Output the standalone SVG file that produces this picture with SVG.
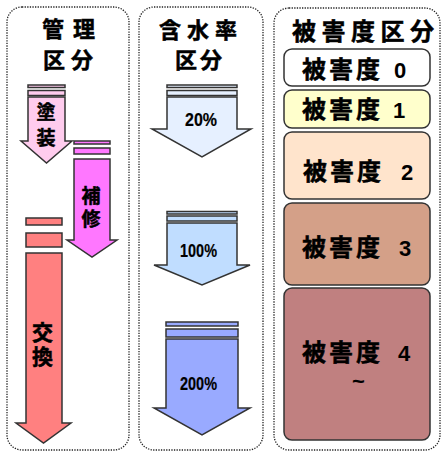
<svg xmlns="http://www.w3.org/2000/svg" width="441" height="454" viewBox="0 0 441 454">
<style>
.panel{fill:none;stroke:#222;stroke-width:1.3;stroke-dasharray:1.3 1.3}
.ar{stroke:#333;stroke-width:1.5;stroke-linejoin:miter}
.title{font-family:"Noto Sans CJK JP","Noto Sans CJK SC",sans-serif;font-weight:bold;fill:#000;stroke:#000;stroke-width:0.5}
.vt{font-family:"Noto Sans CJK JP","Noto Sans CJK SC",sans-serif;font-weight:bold;fill:#000;stroke:#000;stroke-width:0.5;writing-mode:vertical-rl}
.pct{font-family:"Liberation Sans",Arial,sans-serif;font-weight:bold;font-size:18px;fill:#000;stroke:#000;stroke-width:0.2}
.box{stroke:#333;stroke-width:1.5}
.bt{font-family:"Noto Sans CJK JP","Noto Sans CJK SC",sans-serif;font-weight:bold;font-size:24px;fill:#000;stroke:#000;stroke-width:0.5;letter-spacing:3px}
.dg{font-family:"Liberation Sans",Arial,sans-serif;font-weight:bold;font-size:22px;fill:#000;stroke:none;letter-spacing:0}
</style>
<g id="panel-kanri">
<rect class="panel" x="7" y="7" width="122" height="443" rx="15"/>
<text class="title" x="42" y="37" font-size="22" letter-spacing="9">管理</text>
<text class="title" x="43" y="68" font-size="22" letter-spacing="6">区分</text>
</g>
<g id="panel-gansui">
<rect class="panel" x="139" y="7" width="124" height="443" rx="15"/>
<text class="title" x="159" y="38" font-size="22" letter-spacing="6">含水率</text>
<text class="title" x="175" y="68" font-size="22" letter-spacing="3">区分</text>
</g>
<g id="panel-higai">
<rect class="panel" x="274" y="8" width="166" height="442" rx="15"/>
<text class="title" x="292" y="40" font-size="24" letter-spacing="5.5">被害度区分</text>
</g>
<g id="arrow-tosou">
<rect class="ar" fill="#FFCCEE" x="28" y="85" width="37" height="2.5"/>
<rect class="ar" fill="#FFCCEE" x="28" y="90.5" width="37" height="5"/>
<polygon class="ar" fill="#FFCCEE" points="28,97 65,97 65,141 72,141 46.5,163 21,141 28,141"/>
<text class="vt" x="46" y="102" font-size="19" letter-spacing="7">塗装</text>
</g>
<g id="arrow-hoshu">
<rect class="ar" fill="#FF77FF" x="74" y="141" width="36" height="3"/>
<rect class="ar" fill="#FF77FF" x="74" y="148" width="36" height="6"/>
<polygon class="ar" fill="#FF77FF" points="74,159 110,159 110,240 117,240 92,257 67,240 74,240"/>
<text class="vt" x="91" y="186" font-size="19" letter-spacing="4">補修</text>
</g>
<g id="arrow-koukan">
<rect class="ar" fill="#FF8080" x="26" y="218" width="36" height="7"/>
<rect class="ar" fill="#FF8080" x="26" y="233" width="36" height="14"/>
<polygon class="ar" fill="#FF8080" points="26,253 62,253 62,423 71,423 43.5,443 16,423 26,423"/>
<text class="vt" x="42.5" y="322" font-size="21" letter-spacing="3">交換</text>
</g>
<g id="arrow-20">
<rect class="ar" fill="#E6F0FF" x="167" y="85" width="70" height="2.5"/>
<rect class="ar" fill="#E6F0FF" x="167" y="90.5" width="70" height="5"/>
<polygon class="ar" fill="#E6F0FF" points="167,97 237,97 237,129 251,129 202,157 152,129 167,129"/>
<text class="pct" x="201" y="126" text-anchor="middle" textLength="32" lengthAdjust="spacingAndGlyphs">20%</text>
</g>
<g id="arrow-100">
<rect class="ar" fill="#C0DDFF" x="167" y="211.5" width="70" height="2.5"/>
<rect class="ar" fill="#C0DDFF" x="167" y="216" width="70" height="5"/>
<polygon class="ar" fill="#C0DDFF" points="167,223 237,223 237,265 250,265 202,285 154,265 167,265"/>
<text class="pct" x="198.5" y="257" text-anchor="middle" textLength="37" lengthAdjust="spacingAndGlyphs">100%</text>
</g>
<g id="arrow-200">
<rect class="ar" fill="#99AAFF" x="166" y="322" width="72" height="4"/>
<rect class="ar" fill="#99AAFF" x="166" y="329" width="72" height="8"/>
<polygon class="ar" fill="#99AAFF" points="166,339 238,339 238,408 250,408 202,435 154,408 166,408"/>
<text class="pct" x="198.5" y="390" text-anchor="middle" textLength="37" lengthAdjust="spacingAndGlyphs">200%</text>
</g>
<g id="higai-0">
<rect class="box" fill="#FFFFFF" x="284" y="49" width="146" height="37" rx="8"/>
<text class="bt" x="302" y="78">被害度<tspan class="dg" x="394">0</tspan></text>
</g>
<g id="higai-1">
<rect class="box" fill="#FFFFCC" x="284" y="90" width="146" height="38" rx="8"/>
<text class="bt" x="302" y="118">被害度<tspan class="dg" x="393">1</tspan></text>
</g>
<g id="higai-2">
<rect class="box" fill="#FFE4CC" x="284" y="132" width="146" height="67" rx="8"/>
<text class="bt" x="303" y="180">被害度<tspan class="dg" x="401">2</tspan></text>
</g>
<g id="higai-3">
<rect class="box" fill="#D4A088" x="284" y="203" width="146" height="82" rx="8"/>
<text class="bt" x="302" y="256">被害度<tspan class="dg" x="399">3</tspan></text>
</g>
<g id="higai-4">
<rect class="box" fill="#C08080" x="284" y="288" width="146" height="152" rx="8"/>
<text class="bt" x="302" y="361">被害度<tspan class="dg" x="398">4</tspan></text>
<text class="dg" x="358.5" y="389" text-anchor="middle" font-size="26">~</text>
</g>
</svg>
